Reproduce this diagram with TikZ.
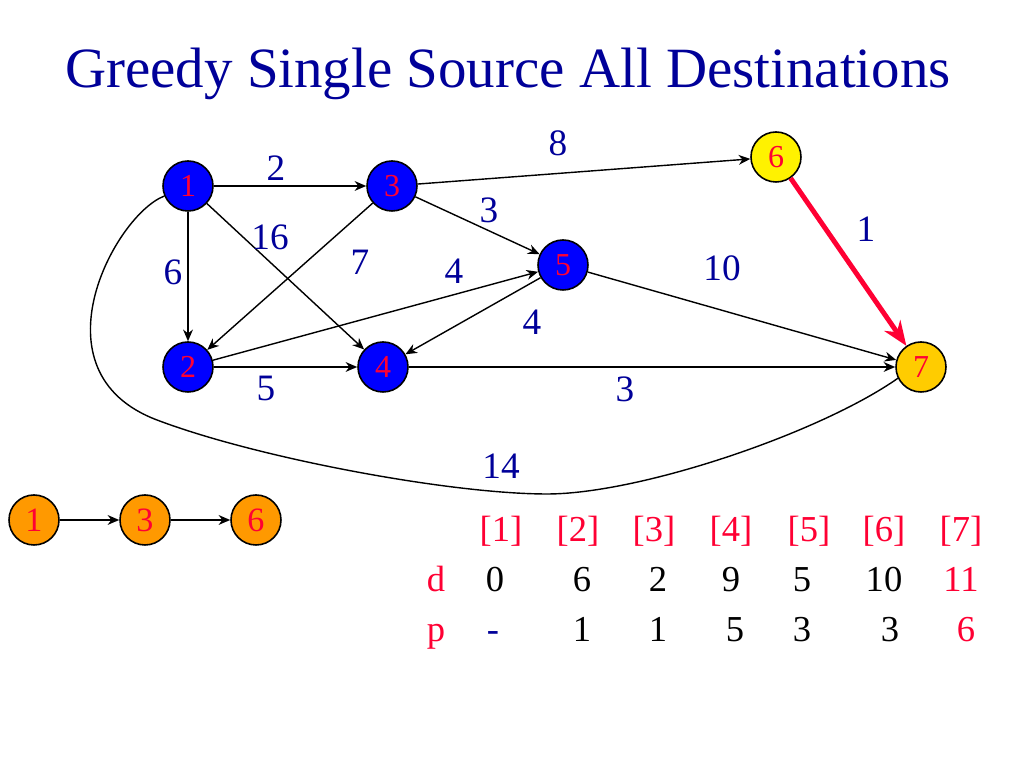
\documentclass[tikz,border=0pt]{standalone}
\usepackage{fontspec}
\setmainfont{Liberation Serif}
\usetikzlibrary{arrows.meta}
\definecolor{navy}{RGB}{0,0,153}
\definecolor{labred}{RGB}{255,0,51}
\definecolor{gold}{RGB}{255,204,0}
\definecolor{orng}{RGB}{255,153,0}
\begin{document}
\begin{tikzpicture}
  [vtx/.style={circle,draw=black,line width=0.45pt,minimum size=0.5cm,inner sep=0pt,text=labred,font=\fontsize{9.1}{10}\selectfont},
   lbl/.style={text=navy,font=\fontsize{10.6}{12}\selectfont},
   tab/.style={anchor=base,font=\fontsize{10.4}{12}\selectfont},
   edge/.style={-{Stealth[length=3.3pt,width=2.8pt]},line width=0.4pt}]
  \useasboundingbox (0,0) rectangle (10.24,7.68);
  \node[text=navy,anchor=base,font=\fontsize{16.2}{19}\selectfont] (title) at (5.08,6.80) {Greedy Single Source All Destinations};

  \node[vtx,fill=blue] (n1) at (1.88,5.82) {1};
  \node[vtx,fill=blue] (n3) at (3.92,5.82) {3};
  \node[vtx,fill=yellow] (n6) at (7.76,6.11) {6};
  \node[vtx,fill=blue] (n5) at (5.63,5.03) {5};
  \node[vtx,fill=blue] (n2) at (1.88,4.01) {2};
  \node[vtx,fill=blue] (n4) at (3.83,4.01) {4};
  \node[vtx,fill=gold] (n7) at (9.21,4.01) {7};

  \foreach \from/\to in {n1/n3,n1/n2,n1/n4,n3/n2,n3/n5,n3/n6,n2/n5,n2/n4,n5/n4,n5/n7,n4/n7}
    \draw[edge] (\from) -- (\to);
  \draw[labred,line width=1.4pt,-{Stealth[length=7pt,width=5.5pt]}] (n6) -- (n7);
  \draw[line width=0.4pt] (n1.203) .. controls (1.15,5.53) and (0.30,3.96) .. (1.57,3.48)
    .. controls (2.57,3.10) and (4.50,2.74) .. (5.47,2.74)
    .. controls (6.40,2.74) and (8.20,3.35) .. (n7.206);

  \node[lbl] (w13) at (2.76,6.00) {2};
  \node[lbl] (w14) at (2.70,5.31) {16};
  \node[lbl] (w12) at (1.73,4.96) {6};
  \node[lbl] (w32) at (3.60,5.06) {7};
  \node[lbl] (w35) at (4.89,5.58) {3};
  \node[lbl] (w25) at (4.54,4.97) {4};
  \node[lbl] (w54) at (5.32,4.46) {4};
  \node[lbl] (w36) at (5.58,6.25) {8};
  \node[lbl] (w67) at (8.66,5.39) {1};
  \node[lbl] (w57) at (7.22,5.00) {10};
  \node[lbl] (w24) at (2.66,3.80) {5};
  \node[lbl] (w47) at (6.25,3.79) {3};
  \node[lbl] (w17) at (5.01,3.02) {14};

  % path found so far
  \node[vtx,fill=orng,font=\fontsize{9.7}{11}\selectfont] (p1) at (0.34,2.48) {1};
  \node[vtx,fill=orng,font=\fontsize{9.7}{11}\selectfont] (p3) at (1.45,2.48) {3};
  \node[vtx,fill=orng,font=\fontsize{9.7}{11}\selectfont] (p6) at (2.56,2.48) {6};
  \draw[edge] (p1) -- (p3);
  \draw[edge] (p3) -- (p6);

  % table of d and p
  \foreach \x/\i in {5.01/1,5.78/2,6.54/3,7.31/4,8.09/5,8.84/6,9.61/7}
    \node[tab,text=labred] (h\i) at (\x,2.26) {[\i]};
  \node[tab,text=labred] (dl) at (4.36,1.76) {d};
  \node[tab,text=labred] (pl) at (4.36,1.26) {p};
  \foreach \x/\i/\v in {4.95/1/0,5.82/2/6,6.58/3/2,7.31/4/9,8.02/5/5,8.84/6/10}
    \node[tab] (d\i) at (\x,1.76) {\v};
  \node[tab,text=labred] (d7) at (9.61,1.76) {11};
  \node[tab,text=navy] (p1v) at (4.93,1.26) {-};
  \foreach \x/\i/\v in {5.82/2/1,6.58/3/1,7.35/4/5,8.02/5/3,8.90/6/3}
    \node[tab] (p\i v) at (\x,1.26) {\v};
  \node[tab,text=labred] (p7v) at (9.66,1.26) {6};
\end{tikzpicture}
\end{document}
